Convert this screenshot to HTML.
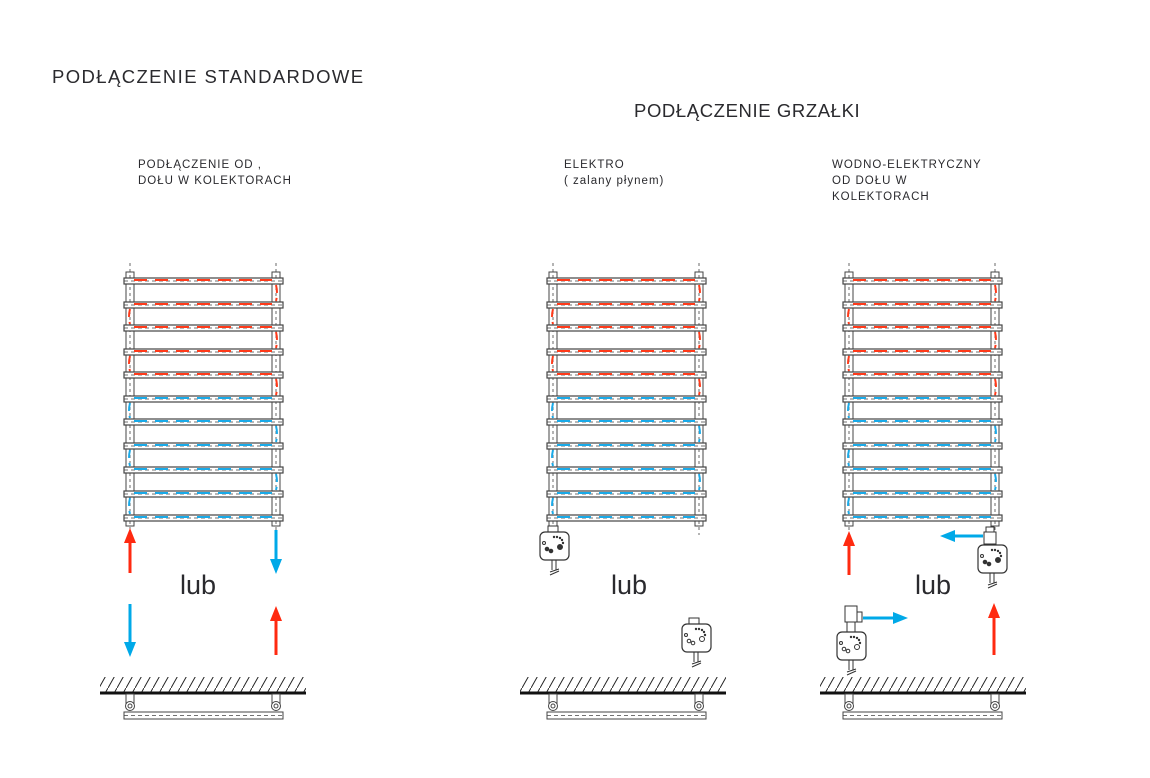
<!DOCTYPE html>
<html><head><meta charset="utf-8"><style>
html,body{margin:0;padding:0;background:#fff;}
svg{display:block;}
text{font-family:"Liberation Sans",sans-serif;fill:#2a2a2e;}
.t{font-size:18.5px;letter-spacing:1.4px;}
.s{font-size:11.5px;letter-spacing:1px;}
</style></head><body>
<svg id="s" width="1150" height="778" viewBox="0 0 1150 778" xmlns="http://www.w3.org/2000/svg">
<defs>
<pattern id="h" width="9" height="16" patternUnits="userSpaceOnUse">
<line x1="0" y1="16" x2="9" y2="0" stroke="#222" stroke-width="1"/>
</pattern>
</defs>
<text x="52" y="83" class="t">PODŁĄCZENIE STANDARDOWE</text>
<text x="634" y="117" font-size="18.5" letter-spacing="0.6">PODŁĄCZENIE GRZAŁKI</text>
<text x="138" y="168" class="s">PODŁĄCZENIE OD ,</text>
<text x="138" y="184" class="s">DOŁU W KOLEKTORACH</text>
<text x="564" y="168" class="s">ELEKTRO</text>
<text x="564" y="184" class="s">( zalany płynem)</text>
<text x="832" y="168" class="s">WODNO-ELEKTRYCZNY</text>
<text x="832" y="184" class="s">OD DOŁU W</text>
<text x="832" y="200" class="s">KOLEKTORACH</text>
<text x="180" y="594" font-size="27">lub</text>
<text x="611" y="594" font-size="27">lub</text>
<text x="915" y="594" font-size="27">lub</text>
<g id="g"></g>
</svg>
<script>
var g=document.getElementById('g'),o='';
var ys=[281,305,328,352,375,399,422,446,470,494,518];
function rad(x0,redRows){
 var x1=x0+159,cl=x0+6,cr=x0+152;
 o+='<rect x="'+(cl-4)+'" y="272" width="8" height="254" fill="none" stroke="#444" stroke-width="1"/>';
 o+='<rect x="'+(cr-4)+'" y="272" width="8" height="254" fill="none" stroke="#444" stroke-width="1"/>';
 o+='<line x1="'+cl+'" y1="263" x2="'+cl+'" y2="535" stroke="#444" stroke-dasharray="3,3" stroke-width="0.8"/>';
 o+='<line x1="'+cr+'" y1="263" x2="'+cr+'" y2="535" stroke="#444" stroke-dasharray="3,3" stroke-width="0.8"/>';
 ys.forEach(function(y,i){
  o+='<rect x="'+x0+'" y="'+(y-3)+'" width="159" height="6" fill="#fff" stroke="#444" stroke-width="1.2"/>';
  o+='<line x1="'+x0+'" y1="'+y+'" x2="'+x1+'" y2="'+y+'" stroke="#444" stroke-dasharray="4,3" stroke-width="0.8"/>';
  var c=i<redRows?'#ff3a1a':'#1aaae8';
  o+='<line x1="'+(cl+4)+'" y1="'+(y-1)+'" x2="'+(cr-4)+'" y2="'+(y-1)+'" stroke="'+c+'" stroke-dasharray="13,8" stroke-width="2"/>';
  if(i<10){var side=i%2==0?cr:cl;
   o+='<path d="M'+side+','+(y+4)+' Q'+(side+(i%2==0?2:-2))+','+(y+12)+' '+side+','+(ys[i+1]-4)+'" fill="none" stroke="'+c+'" stroke-dasharray="8,5" stroke-width="2"/>';}
 });
}
function wall(x0,x1,bx){
 o+='<rect x="'+x0+'" y="677" width="'+(x1-x0)+'" height="15" fill="url(#h)"/>';
 o+='<line x1="'+x0+'" y1="693" x2="'+x1+'" y2="693" stroke="#111" stroke-width="3"/>';
 o+='<rect x="'+bx+'" y="712" width="159" height="7" fill="#fff" stroke="#444"/>';
 o+='<line x1="'+bx+'" y1="715.5" x2="'+(bx+159)+'" y2="715.5" stroke="#444" stroke-dasharray="4,3" stroke-width="0.8"/>';
 [bx+6,bx+152].forEach(function(c){
  o+='<rect x="'+(c-4)+'" y="694" width="8" height="14" fill="#fff" stroke="#444"/>';
  o+='<circle cx="'+c+'" cy="706" r="4.5" fill="#fff" stroke="#444"/><circle cx="'+c+'" cy="706" r="2" fill="none" stroke="#444"/>';
 });
}
function arrow(x1,y1,x2,y2,col){
 var c=col=='r'?'#ff2a10':'#00a9e8';
 var dx=x2-x1,dy=y2-y1,L=Math.hypot(dx,dy),ux=dx/L,uy=dy/L,h=15;
 var bx=x2-ux*h,by=y2-uy*h;
 o+='<line x1="'+x1+'" y1="'+y1+'" x2="'+bx+'" y2="'+by+'" stroke="'+c+'" stroke-width="3"/>';
 o+='<path d="M'+x2+','+y2+' L'+(bx-uy*6)+','+(by+ux*6)+' L'+(bx+uy*6)+','+(by-ux*6)+'z" fill="'+c+'"/>';
}
function heater(x,y,filled){
 o+='<rect x="'+x+'" y="'+y+'" width="29" height="28" rx="5" fill="#fff" stroke="#333" stroke-width="1.2"/>';
 var dots=[[14,5],[17,5],[20,6],[22,8],[23,11]];
 dots.forEach(function(d){o+='<circle cx="'+(x+d[0])+'" cy="'+(y+d[1])+'" r="1.2" fill="#333"/>';});
 o+='<circle cx="'+(x+4)+'" cy="'+(y+11)+'" r="1.5" fill="none" stroke="#333"/>';
 o+='<circle cx="'+(x+7)+'" cy="'+(y+17)+'" r="1.8" fill="'+(filled?'#333':'none')+'" stroke="#333"/>';
 o+='<circle cx="'+(x+11)+'" cy="'+(y+19)+'" r="1.8" fill="'+(filled?'#333':'none')+'" stroke="#333"/>';
 o+='<circle cx="'+(x+20)+'" cy="'+(y+15)+'" r="2.5" fill="'+(filled?'#333':'none')+'" stroke="#333"/>';
 o+='<path d="M'+(x+12)+','+(y+28)+' l0,10 m4,-10 l0,10 m-6,2 l9,-3 m-9,6 l9,-4" stroke="#333" fill="none"/>';
}
rad(124,5);rad(547,5);rad(843,5);
wall(100,306,124);wall(520,726,547);wall(820,1026,843);
arrow(130,573,130,528,'r');arrow(276,530,276,574,'b');
arrow(130,604,130,657,'b');arrow(276,655,276,606,'r');
arrow(849,575,849,531,'r');arrow(983,536,940,536,'b');
arrow(863,618,908,618,'b');arrow(994,655,994,603,'r');
o+='<rect x="548" y="526" width="10" height="8" fill="#fff" stroke="#333"/>';heater(540,532,true);
o+='<rect x="689" y="618" width="10" height="6" fill="#fff" stroke="#333"/>';heater(682,624,false);
o+='<rect x="986" y="527" width="8" height="6" fill="#fff" stroke="#333"/><rect x="984" y="532" width="12" height="12" fill="#fff" stroke="#333"/>';heater(978,545,true);
o+='<rect x="845" y="606" width="12" height="16" fill="#fff" stroke="#333"/><rect x="857" y="612" width="5" height="10" fill="#fff" stroke="#333"/><rect x="847" y="622" width="8" height="10" fill="#fff" stroke="#333"/>';heater(837,632,false);
g.innerHTML=o;
</script>
</body></html>
